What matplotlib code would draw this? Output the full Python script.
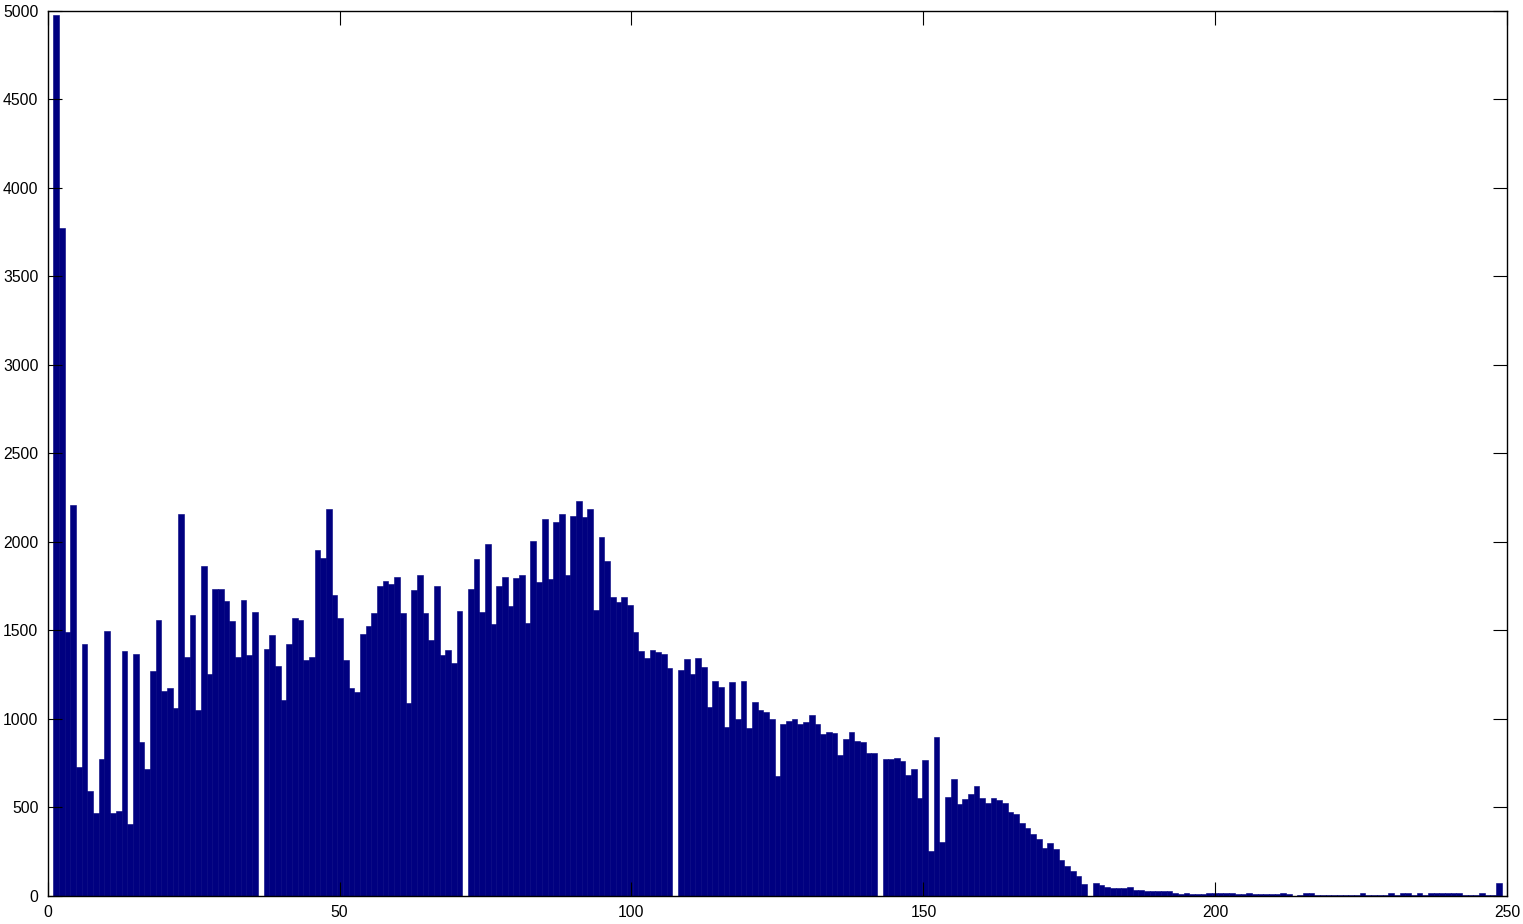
import numpy as np
import matplotlib
matplotlib.use("Agg")
import matplotlib.pyplot as plt

# Histogram: 256 bins over data range [1, 250]
bin_lo = 1.0
bin_hi = 250.0
counts = [
    4980, 3775, 1488, 2207, 728, 1420, 593, 465, 770, 1497,
    465, 480, 1382, 402, 1365, 866, 717, 1269, 1557, 1156,
    1171, 1060, 2155, 1346, 1584, 1049, 1864, 1252, 1734, 1734,
    1663, 1550, 1346, 1672, 1358, 1601, 0, 1392, 1471, 1296,
    1103, 1420, 1569, 1557, 1331, 1346, 1951, 1910, 2187, 1697,
    1569, 1330, 1171, 1149, 1480, 1523, 1595, 1751, 1778, 1761,
    1802, 1595, 1088, 1725, 1810, 1595, 1444, 1751, 1358, 1390,
    1314, 1610, 0, 1734, 1900, 1601, 1989, 1533, 1751, 1802,
    1637, 1795, 1812, 1540, 2006, 1770, 2127, 1789, 2111, 2155,
    1810, 2145, 2232, 2138, 2187, 1612, 2028, 1891, 1689, 1657,
    1689, 1644, 1488, 1382, 1341, 1390, 1375, 1367, 1284, 0,
    1277, 1337, 1252, 1344, 1293, 1067, 1214, 1180, 953, 1205,
    998, 1214, 945, 1092, 1049, 1039, 996, 676, 969, 988,
    996, 971, 979, 1022, 969, 911, 926, 919, 796, 883,
    926, 873, 866, 806, 806, 0, 770, 770, 777, 760,
    681, 715, 549, 768, 250, 898, 304, 557, 657, 516,
    544, 575, 619, 549, 525, 549, 540, 525, 470, 461,
    408, 380, 348, 321, 269, 295, 261, 201, 165, 138,
    110, 65, 0, 69, 58, 50, 41, 41, 41, 50,
    31, 31, 24, 24, 24, 24, 24, 14, 7, 14,
    7, 7, 7, 14, 14, 14, 14, 14, 7, 7,
    14, 7, 7, 7, 7, 7, 14, 7, 0, 5,
    14, 14, 4, 4, 4, 4, 4, 4, 4, 4,
    14, 5, 5, 5, 5, 14, 5, 14, 14, 5,
    14, 5, 14, 14, 14, 14, 14, 14, 5, 5,
    5, 14, 5, 5, 69, 0,
]

x_ticks = [0, 50, 100, 150, 200, 250]
y_ticks = [0, 500, 1000, 1500, 2000, 2500, 3000, 3500, 4000, 4500, 5000]

n_bins = len(counts)
edges = np.linspace(bin_lo, bin_hi, n_bins + 1)
centers = 0.5 * (edges[:-1] + edges[1:])
width = edges[1] - edges[0]

plt.rcParams['font.family'] = ['Liberation Sans', 'DejaVu Sans']

fig = plt.figure(figsize=(15.23, 9.24), dpi=100)
ax = fig.add_axes([0.03119, 0.03084, 0.95863, 0.95725])

navy = '#000080'
ax.bar(centers, counts, width=width, color=navy, edgecolor=navy,
       linewidth=0.4, align='center')

ax.set_xlim(0, 250)
ax.set_ylim(0, 5000)
ax.set_xticks(x_ticks)
ax.set_yticks(y_ticks)
ax.set_xticklabels([str(t) for t in x_ticks])
ax.set_yticklabels([str(t) for t in y_ticks])

ax.tick_params(axis='both', which='both', direction='in', length=10,
               width=0.8, top=True, right=True, labelsize=11.3,
               pad=6.5, colors='black')
for sp in ax.spines.values():
    sp.set_linewidth(1.0)
    sp.set_color('black')

fig.savefig('out.png', dpi=100)
